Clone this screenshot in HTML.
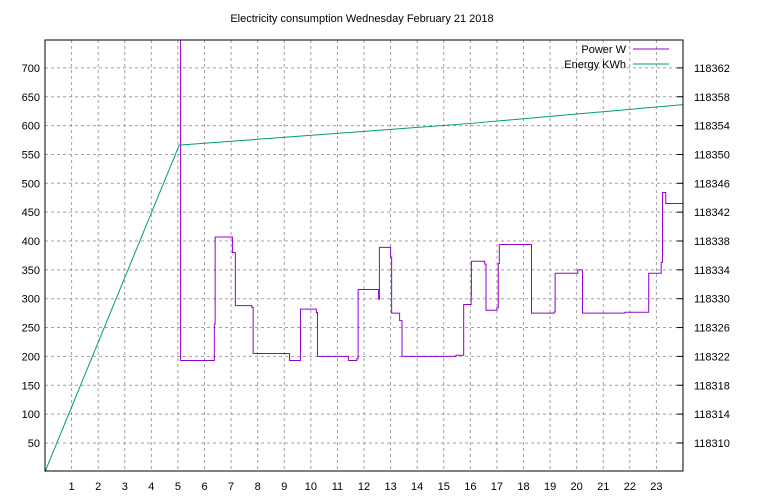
<!DOCTYPE html>
<html><head><meta charset="utf-8"><style>
body{margin:0;background:#fff;}
svg{display:block;font-family:"Liberation Sans",sans-serif;font-size:11px;}
</style></head><body>
<svg id="chart" width="768" height="500" viewBox="0 0 768 500">
<text x="362" y="22" text-anchor="middle">Electricity consumption Wednesday February 21 2018</text>
<g id="grid"></g>
<g id="ticks"></g>
<g id="series"></g>
<rect x="45" y="40" width="638" height="431" fill="none" stroke="#000" stroke-width="1"/>
<g>
<g><text x="626" y="53" text-anchor="end">Power W</text><line x1="633" y1="49" x2="669" y2="49" stroke="#9400d3"/></g>
<g><text x="626" y="68" text-anchor="end">Energy KWh</text><line x1="633" y1="64" x2="669" y2="64" stroke="#009e73"/></g>
</g>
</svg>
<script>
const xTicks=[1,2,3,4,5,6,7,8,9,10,11,12,13,14,15,16,17,18,19,20,21,22,23];
const yTicksLeft=[50,100,150,200,250,300,350,400,450,500,550,600,650,700];
const yTicksRight=[118310,118314,118318,118322,118326,118330,118334,118338,118342,118346,118350,118354,118358,118362];
const powerHours=[5.08,5.1,6.37,6.4,6.45,7.05,7.16,7.78,7.83,9.2,9.61,10.21,10.25,11.42,11.73,11.78,12.55,12.58,13.0,13.04,13.34,13.43,15.46,15.75,16.03,16.04,16.54,16.59,17.0,17.05,17.09,18.3,19.15,19.19,20.04,20.22,21.81,22.71,23.18,23.23,23.35,24];
const powerValues=[760,193,256,407,407,380,288,285,205,193,282,276,200,193,196,316,299,389,372,275,262,200,202,290,305,365,360,280,284,361,394,275,277,344,350,275,276.5,344,363,484,465,465];
const energyHours=[0,5.05,8,12,16,20,24];
const energyValues=[118306,118351.3,118352.1,118353.2,118354.3,118355.6,118356.9];
const L=45,R=683,T=40,B=471;
const X=h=>L+h*(R-L)/24;
const Y=v=>471.8-v*0.577;
const Y2=e=>Y((e-118306)/0.08);
const NS="http://www.w3.org/2000/svg";
function mk(tag,attrs,parent){const e=document.createElementNS(NS,tag);for(const k in attrs)e.setAttribute(k,attrs[k]);parent.appendChild(e);return e;}
const grid=document.getElementById('grid'),ticks=document.getElementById('ticks'),series=document.getElementById('series');
xTicks.forEach(h=>{const x=X(h);
 const g=mk('line',{x1:x,y1:T,x2:x,y2:B,stroke:'#a0a0a0','stroke-dasharray':'3,3'},grid);
 
 
 const t=mk('text',{x:x,y:B+19,'text-anchor':'middle'},ticks);t.textContent=h;
 
 
});
yTicksLeft.forEach(v=>{const y=Y(v);
 const g=mk('line',{x1:L,y1:y,x2:R,y2:y,stroke:'#a0a0a0','stroke-dasharray':'3,3'},grid);
 
 
 const t=mk('text',{x:L-5,y:y+4,'text-anchor':'end'},ticks);t.textContent=v;
 
 
});
yTicksRight.forEach(v=>{const y=Y2(v);
 const m=mk('line',{x1:R-6,y1:y,x2:R,y2:y,stroke:'#000'},ticks);
 
 
 const t=mk('text',{x:694,y:y+4,'text-anchor':'start'},ticks);t.textContent=v;
 
 
});
// power step line
let d='';
for(let i=0;i<powerHours.length;i++){
 const x=X(powerHours[i]),y=Math.max(T,Y(powerValues[i]));
 if(i===0)d+='M'+x+','+y;else{d+='H'+x+'V'+y;}
}
const p=mk('path',{d:d,fill:'none',stroke:'#9400d3','stroke-width':1},series);


let d2=energyHours.map((h,i)=>(i?'L':'M')+X(h)+','+Y2(energyValues[i])).join('');
const e=mk('path',{d:d2,fill:'none',stroke:'#009e73','stroke-width':1},series);


</script>
</body></html>
